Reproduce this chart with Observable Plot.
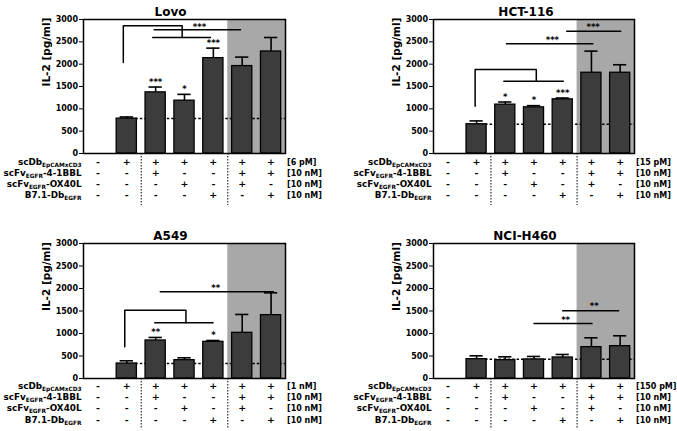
<!DOCTYPE html>
<html><head><meta charset="utf-8">
<script src="https://cdn.jsdelivr.net/npm/d3@7"></script>
<script src="https://cdn.jsdelivr.net/npm/@observablehq/plot@0.6"></script>
<style>
html,body{margin:0;padding:0;background:#fff;}
#grid{display:grid;grid-template-columns:340px 337px;grid-template-rows:215px 216px;width:677px;height:431px;}
#grid svg{display:block;}
</style></head><body><div id="grid"></div>
<script>
// ---- shared data ----
const categories = [0, 1, 2, 3, 4, 5, 6];
const groups = [[0, 1], [2, 3, 4], [5, 6]];
const rowLabels = ["scDb_{EpCAMxCD3}", "scFv_{EGFR}-4-1BBL", "scFv_{EGFR}-OX40L", "B7.1-Db_{EGFR}"];
const rowScDb  = ["-", "+", "+", "+", "+", "+", "+"];
const row41BBL = ["-", "-", "+", "-", "-", "+", "+"];
const rowOX40L = ["-", "-", "-", "+", "-", "+", "-"];
const rowB71   = ["-", "-", "-", "-", "+", "-", "+"];
const yTicks = [0, 500, 1000, 1500, 2000, 2500, 3000];
const yLabel = "IL-2 [pg/ml]";
const titles = ["Lovo", "HCT-116", "A549", "NCI-H460"];

// ---- Lovo ----
const lovoConc = ["[6 pM]", "[10 nM]", "[10 nM]", "[10 nM]"];
const lovoMean = [null, 781, 1369, 1183, 2135, 1957, 2284];
const lovoErr  = [null, 818, 1488, 1324, 2359, 2158, 2597];
const lovoStars = ["", "", "***", "*", "***", "", ""];
const lovoBrackets = [
  [[0.88, 2040], [0.88, 2860], [2.92, 2860], [2.92, 2597]],
  [[1.9, 2597], [3.9, 2597]],
  [[1.95, 2769], [4.94, 2769]]
];
const lovoBracketStars = [[3.52, 2860, "***"]];

// ---- HCT-116 ----
const hctConc = ["[15 pM]", "[10 nM]", "[10 nM]", "[10 nM]"];
const hctMean = [null, 655, 1094, 1034, 1213, 1808, 1808];
const hctErr  = [null, 729, 1153, 1071, 1242, 2292, 1987];
const hctStars = ["", "", "*", "*", "***", "", ""];
const hctBrackets = [
  [[0.95, 1057], [0.95, 1882], [3.08, 1882], [3.08, 1615]],
  [[1.95, 1615], [4.02, 1615]],
  [[2.04, 2455], [5.05, 2455]],
  [[4.14, 2735], [6.02, 2735]]
];
const hctBracketStars = [[3.64, 2567, "***"], [5.06, 2866, "***"]];

// ---- A549 ----
const a549Conc = ["[1 nM]", "[10 nM]", "[10 nM]", "[10 nM]"];
const a549Mean = [null, 333, 845, 408, 815, 1015, 1408];
const a549Err  = [null, 393, 912, 460, 845, 1423, 1904];
const a549Stars = ["", "", "**", "", "*", "", ""];
const a549Brackets = [
  [[0.93, 704], [0.93, 1519], [3.05, 1519], [3.05, 1237]],
  [[1.97, 1237], [3.99, 1237]],
  [[2.16, 1927], [6.08, 1927]]
];
const a549BracketStars = [[4.08, 2040, "**"]];

// ---- NCI-H460 ----
const nciConc = ["[150 pM]", "[10 nM]", "[10 nM]", "[10 nM]"];
const nciMean = [null, 430, 408, 423, 467, 697, 719];
const nciErr  = [null, 504, 482, 490, 534, 904, 949];
const nciStars = ["", "", "", "", "", "", ""];
const nciBrackets = [
  [[3.0, 1223], [5.02, 1223]],
  [[4.0, 1504], [5.95, 1504]]
];
const nciBracketStars = [[4.1, 1330, "**"], [5.1, 1640, "**"]];

const panels = [
  {title: titles[0], conc: lovoConc, mean: lovoMean, err: lovoErr, stars: lovoStars, brackets: lovoBrackets, bstars: lovoBracketStars},
  {title: titles[1], conc: hctConc, mean: hctMean, err: hctErr, stars: hctStars, brackets: hctBrackets, bstars: hctBracketStars},
  {title: titles[2], conc: a549Conc, mean: a549Mean, err: a549Err, stars: a549Stars, brackets: a549Brackets, bstars: a549BracketStars},
  {title: titles[3], conc: nciConc, mean: nciMean, err: nciErr, stars: nciStars, brackets: nciBrackets, bstars: nciBracketStars}
];

const layouts = [
  {w: 340, h: 215, ml: 83, mr: 55, mt: 19, mb: 62, tdx: -14, tdy: -12, rowDy: [11, 22, 33, 44.5], tableH: 52},
  {w: 337, h: 215, ml: 93, mr: 43, mt: 19, mb: 62, tdx: -8, tdy: -12, rowDy: [11, 22, 33, 44.5], tableH: 52},
  {w: 340, h: 216, ml: 83, mr: 55, mt: 28, mb: 53, tdx: -14, tdy: -12, rowDy: [10.5, 21.5, 32.5, 44], tableH: 50},
  {w: 337, h: 216, ml: 93, mr: 43, mt: 28, mb: 53, tdx: -9, tdy: -12, rowDy: [10.5, 21.5, 32.5, 44], tableH: 50}
];

const rows = [rowScDb, row41BBL, rowOX40L, rowB71];

function applySubs(svg) {
  svg.querySelectorAll("text").forEach(t => {
    const txt = t.textContent;
    if (!txt.includes("_{")) return;
    const parts = txt.split(/(_\{[^}]*\})/).filter(s => s);
    while (t.firstChild) t.removeChild(t.firstChild);
    let shifted = false;
    for (const part of parts) {
      const ts = document.createElementNS("http://www.w3.org/2000/svg", "tspan");
      if (part.startsWith("_{")) {
        ts.textContent = part.slice(2, -1);
        ts.setAttribute("font-size", "5.8");
        ts.setAttribute("dy", "2");
        shifted = true;
      } else {
        ts.textContent = part;
        if (shifted) { ts.setAttribute("dy", "-2"); shifted = false; }
      }
      t.appendChild(ts);
    }
  });
}

function makePanel(p, lay) {
  const bars = categories.filter(i => p.mean[i] != null).map(i => ({i, m: p.mean[i], e: p.err[i], s: p.stars[i]}));
  const shade = groups[groups.length - 1];
  const breaks = groups.slice(0, -1).map(g => g[g.length - 1] + 0.5);
  const xMin = categories[0] - 0.5, xMax = categories[categories.length - 1] + 0.5;
  const yMin = yTicks[0], yMax = yTicks[yTicks.length - 1];
  const frameH = lay.h - lay.mt - lay.mb;
  const bracketPts = p.brackets.flatMap((path, k) => path.map(([x, y]) => ({x, y, k})));
  const marks = [
    Plot.rect([{x1: shade[0] - 0.5, x2: shade[shade.length - 1] + 0.5}], {x1: "x1", x2: "x2", y1: yMin, y2: yMax, fill: "#a8a8a8"}),
    Plot.ruleY([p.mean[1]], {x1: 1, x2: xMax, stroke: "#000", strokeWidth: 1.5, strokeDasharray: "2.5,2"}),
    Plot.rectY(bars, {x1: d => d.i - 0.35, x2: d => d.i + 0.35, y1: yMin, y2: "m", fill: "#3c3c3c", stroke: "#000", strokeWidth: 1.3}),
    Plot.ruleX(bars, {x: "i", y1: "m", y2: "e", stroke: "#000", strokeWidth: 1.6}),
    Plot.ruleY(bars, {y: "e", x1: d => d.i - 0.23, x2: d => d.i + 0.23, stroke: "#000", strokeWidth: 1.6}),
    Plot.text(bars.filter(d => d.s), {x: "i", y: "e", text: "s", dy: -5, fontSize: 8.5, fill: "#000"}),
    Plot.line(bracketPts, {x: "x", y: "y", z: "k", stroke: "#000", strokeWidth: 1.5, curve: "linear"}),
    Plot.text(p.bstars, {x: d => d[0], y: d => d[1], text: d => d[2], dy: 1.5, fontSize: 8.5, fill: "#000"}),
    Plot.frame({stroke: "#000", strokeWidth: 1.5}),
    Plot.text([yLabel], {frameAnchor: "left", rotate: -90, dx: -37, fontSize: 10.5, fill: "#000"}),
    Plot.text([p.title], {frameAnchor: "top", dx: lay.tdx, dy: lay.tdy, fontSize: 12, fill: "#000"}),
    Plot.ruleX(breaks, {insetTop: frameH, insetBottom: -lay.tableH, stroke: "#000", strokeWidth: 1, strokeDasharray: "1.5,1.5"})
  ];
  rows.forEach((row, r) => {
    marks.push(Plot.text(row.map((s, i) => ({i, s})), {x: "i", text: "s", frameAnchor: "bottom", dy: lay.rowDy[r], fontSize: 9.5, fill: "#000"}));
    marks.push(Plot.text([rowLabels[r]], {frameAnchor: "bottom-left", textAnchor: "end", dx: -2, dy: lay.rowDy[r], fontSize: 8.8, fill: "#000"}));
    marks.push(Plot.text([p.conc[r]], {frameAnchor: "bottom-right", textAnchor: "start", dx: 1.5, dy: lay.rowDy[r], fontSize: 8, fill: "#000"}));
  });
  const svg = Plot.plot({
    width: lay.w, height: lay.h,
    marginLeft: lay.ml, marginRight: lay.mr, marginTop: lay.mt, marginBottom: lay.mb,
    x: {domain: [xMin, xMax], axis: null},
    y: {domain: [yMin, yMax], ticks: yTicks, tickSize: 4, tickPadding: 1.5, label: null, tickFormat: d => String(d)},
    style: {fontFamily: "DejaVu Sans", fontWeight: "bold", fontSize: "8px", color: "#000", background: "#fff", overflow: "visible"},
    marks
  });
  applySubs(svg);
  return svg;
}

const grid = document.getElementById("grid");
panels.forEach((p, k) => grid.appendChild(makePanel(p, layouts[k])));
</script></body></html>
